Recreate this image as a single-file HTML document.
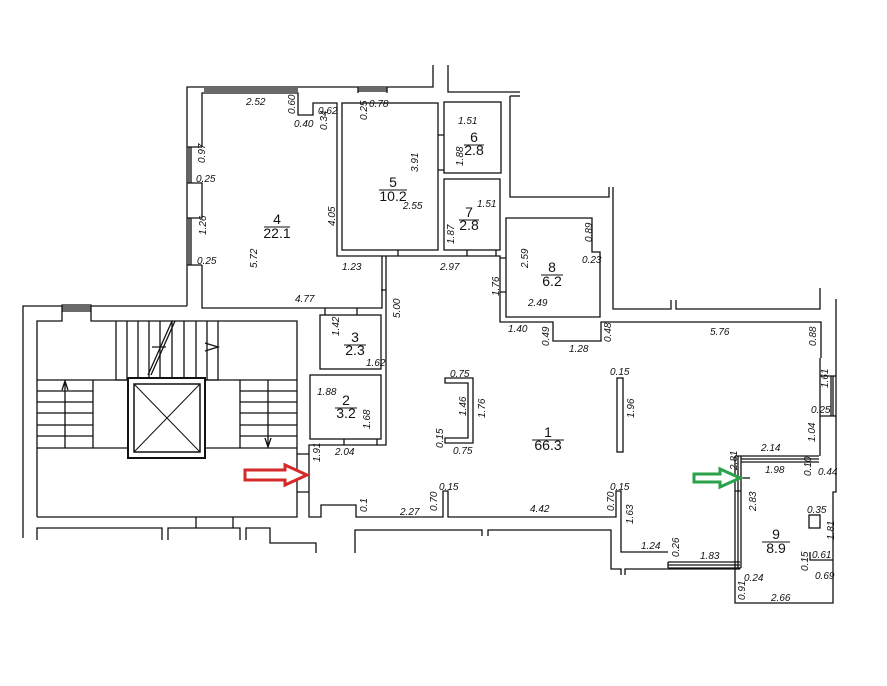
<!DOCTYPE html>
<html><head><meta charset="utf-8"><style>
html,body{margin:0;padding:0;background:#fff;}
svg{display:block;}
text{font-family:"Liberation Sans",sans-serif;font-style:italic;font-size:10px;fill:#111;}
.r{font-style:normal;font-size:14px;}
</style></head><body>
<svg width="887" height="686" viewBox="0 0 887 686" xmlns="http://www.w3.org/2000/svg">
<g fill="none" stroke="#111" stroke-width="1.3">
<path d="M187 306 V87 H433 V65"/>
<path d="M448 65 V92 H520"/>
<path d="M510 96 H520"/>
<path d="M202 147 V93 H298 V115 H313 V103 H337 V256 H382 V308 H202 V265"/>
<path d="M202 218 V183 H187 M187 147 H202 M187 218 H202 M187 265 H202"/>
<path d="M189 147 V183 M191 147 V183 M189 218 V265 M191 218 V265"/>
<path d="M204 89 H298 M204 91 H298"/>
<path d="M358 89 H387 M358 91 H387 M358 87 V93 M387 87 V93"/>
<rect x="342" y="103" width="96" height="147"/>
<rect x="444" y="102" width="57" height="71"/>
<rect x="444" y="179" width="56" height="71"/>
<path d="M438 135 H444 M438 170 H444"/>
<path d="M382 256 H500 V322 H553 V341 H601 V322 H821 V358"/>
<path d="M398 250 V256 M467 250 V256 M496 250 V256"/>
<path d="M506 218 H592 V252 H600 V317 H506 Z M500 258 H506 M500 292 H506"/>
<path d="M510 96 V197 H609 V187"/>
<path d="M613 187 V309 H671 V300 M676 300 V309 H820 V288"/>
<path d="M836 299 V358"/>
<rect x="320" y="315" width="61" height="54"/>
<rect x="310" y="375" width="71" height="64"/>
<path d="M386 256 V445 H309 V517 H321 V505 H356 V517 H443 V491 H448 V517 H616 V491 H621 V552 H668"/>
<path d="M325 308 V315 M357 308 V315 M344 439 V445 M377 439 V445 M386 290 H381"/>
<path d="M23 538 V306 H62 M91 306 H187"/>
<path d="M62 305 H91 V311 H62 Z M62 307 H91 M62 309 H91"/>
<path d="M37 517 V321 H62 V311 M91 311 V321 H297 V517 H37"/>
<path d="M116 321 V380 H218 V321"/>
<path d="M127 321V380M138 321V380M149 321V380M160 321V380M172 321V380M184 321V380M196 321V380M207 321V380"/>
<path d="M148 375 L172 321 M151 375 L175 321"/>
<path d="M37 380 H128 M205 380 H297 M37 448 H128 M205 448 H297 M93 380 V448 M240 380 V448"/>
<path d="M37 391H93M37 402H93M37 413H93M37 425H93M37 436H93 M65 380V448 M62 390 L65 381 L68 390"/>
<path d="M240 391H297M240 402H297M240 413H297M240 425H297M240 436H297 M268 380V448 M265 438 L268 447 L271 438"/>
<path d="M152 347 H166 M205 343 L218 347 L205 351" />
<path d="M297 454 H309 M297 492 H309"/>
<path d="M196 517 V528 M233 517 V528"/>
<path d="M37 540 V528 H162 V540 M168 540 V528 H240 V540 M246 540 V528 H270 V543 H316 V553"/>
<path d="M355 553 V530 H430 M430 530 H482 V536 M488 536 V530 H611 V569 H621 V575 M625 575 V569 H740"/>
<path d="M445 378 H473 V443 H445 V438 H468 V383 H445 Z"/>
<rect x="617" y="378" width="6" height="74"/>
<path d="M820 358 V376 H836 V358 M836 376 V416 M820 376 V416 M833 376 V416 M831 376 V416"/>
<path d="M820 416 H836 M820 416 V456 M836 416 V492 H833 V603 H735 V568"/>
<path d="M668 562 H740 M668 565 H740 M668 568 H740 M668 562 V568"/>
<path d="M735 456 V568 M738 456 V568 M741 456 V568 M735 456 H741 M735 491 H741 M735 568 H741"/>
<path d="M741 456 H819 M741 459 H819 M741 462 H819"/>
<path d="M741 478 H750"/>
<rect x="809" y="515" width="11" height="13"/>
<path d="M810 552 V560 H833"/>
</g>
<!-- lift -->
<rect x="128" y="378" width="77" height="80" fill="#fff" stroke="#111" stroke-width="2"/>
<rect x="134" y="384" width="66" height="68" fill="none" stroke="#111" stroke-width="1.5"/>
<path d="M134 384 L200 452 M200 384 L134 452" stroke="#111" stroke-width="1"/>
<path d="M245 470 H285 V465 L307 475 L285 485 V480 H245 Z" fill="#fff" stroke="#d42a2a" stroke-width="3"/>
<path d="M694 474 H720 V469 L740 478 L720 487 V482 H694 Z" fill="#fff" stroke="#2aa24a" stroke-width="3"/>
<g text-anchor="middle">
<text class="r" x="277" y="224">4</text><text class="r" x="277" y="238">22.1</text>
<text class="r" x="393" y="187">5</text><text class="r" x="393" y="201">10.2</text>
<text class="r" x="474" y="142">6</text><text class="r" x="474" y="155">2.8</text>
<text class="r" x="469" y="217">7</text><text class="r" x="469" y="230">2.8</text>
<text class="r" x="552" y="272">8</text><text class="r" x="552" y="286">6.2</text>
<text class="r" x="355" y="342">3</text><text class="r" x="355" y="355">2.3</text>
<text class="r" x="346" y="405">2</text><text class="r" x="346" y="418">3.2</text>
<text class="r" x="548" y="437">1</text><text class="r" x="548" y="450">66.3</text>
<text class="r" x="776" y="539">9</text><text class="r" x="776" y="553">8.9</text>
</g>
<g stroke="#111" stroke-width="1">
<path d="M264 227H290M379 190H407M464 145H484M459 220H479M541 275H563M344 345H366M335 408H357M532 440H564M762 542H790"/>
</g>
<g>
<text x="246" y="105">2.52</text><text x="294" y="127">0.40</text><text x="318" y="114">0.62</text>
<text x="369" y="107">0.78</text><text x="403" y="209">2.55</text><text x="196" y="182">0.25</text>
<text x="197" y="264">0.25</text><text x="342" y="270">1.23</text><text x="295" y="302">4.77</text>
<text x="366" y="366">1.62</text><text x="317" y="395">1.88</text><text x="335" y="455">2.04</text>
<text x="458" y="124">1.51</text><text x="477" y="207">1.51</text><text x="440" y="270">2.97</text>
<text x="582" y="263">0.23</text><text x="528" y="306">2.49</text><text x="508" y="332">1.40</text>
<text x="569" y="352">1.28</text><text x="710" y="335">5.76</text><text x="811" y="413">0.25</text>
<text x="761" y="451">2.14</text><text x="765" y="473">1.98</text><text x="818" y="475">0.44</text>
<text x="807" y="513">0.35</text><text x="812" y="558">0.61</text><text x="815" y="579">0.69</text>
<text x="744" y="581">0.24</text><text x="771" y="601">2.66</text><text x="450" y="377">0.75</text>
<text x="453" y="454">0.75</text><text x="610" y="375">0.15</text><text x="439" y="490">0.15</text>
<text x="530" y="512">4.42</text><text x="610" y="490">0.15</text><text x="641" y="549">1.24</text>
<text x="700" y="559">1.83</text><text x="400" y="515">2.27</text>
</g>
<g>
<text transform="translate(295,114) rotate(-90)">0.60</text>
<text transform="translate(327,130) rotate(-90)">0.34</text>
<text transform="translate(367,120) rotate(-90)">0.25</text>
<text transform="translate(418,172) rotate(-90)">3.91</text>
<text transform="translate(335,226) rotate(-90)">4.05</text>
<text transform="translate(205,163) rotate(-90)">0.97</text>
<text transform="translate(206,235) rotate(-90)">1.26</text>
<text transform="translate(257,268) rotate(-90)">5.72</text>
<text transform="translate(400,318) rotate(-90)">5.00</text>
<text transform="translate(339,336) rotate(-90)">1.42</text>
<text transform="translate(370,429) rotate(-90)">1.68</text>
<text transform="translate(320,462) rotate(-90)">1.91</text>
<text transform="translate(463,166) rotate(-90)">1.88</text>
<text transform="translate(454,244) rotate(-90)">1.87</text>
<text transform="translate(592,242) rotate(-90)">0.89</text>
<text transform="translate(528,268) rotate(-90)">2.59</text>
<text transform="translate(499,296) rotate(-90)">1.76</text>
<text transform="translate(549,346) rotate(-90)">0.49</text>
<text transform="translate(611,342) rotate(-90)">0.48</text>
<text transform="translate(816,346) rotate(-90)">0.88</text>
<text transform="translate(828,388) rotate(-90)">1.61</text>
<text transform="translate(815,442) rotate(-90)">1.04</text>
<text transform="translate(737,470) rotate(-90)">2.81</text>
<text transform="translate(811,476) rotate(-90)">0.10</text>
<text transform="translate(834,540) rotate(-90)">1.81</text>
<text transform="translate(756,511) rotate(-90)">2.83</text>
<text transform="translate(808,571) rotate(-90)">0.15</text>
<text transform="translate(745,600) rotate(-90)">0.91</text>
<text transform="translate(466,416) rotate(-90)">1.46</text>
<text transform="translate(485,418) rotate(-90)">1.76</text>
<text transform="translate(443,448) rotate(-90)">0.15</text>
<text transform="translate(634,418) rotate(-90)">1.96</text>
<text transform="translate(437,511) rotate(-90)">0.70</text>
<text transform="translate(614,511) rotate(-90)">0.70</text>
<text transform="translate(633,524) rotate(-90)">1.63</text>
<text transform="translate(679,557) rotate(-90)">0.26</text>
<text transform="translate(367,512) rotate(-90)">0.1</text>
</g>
</svg>
</body></html>
